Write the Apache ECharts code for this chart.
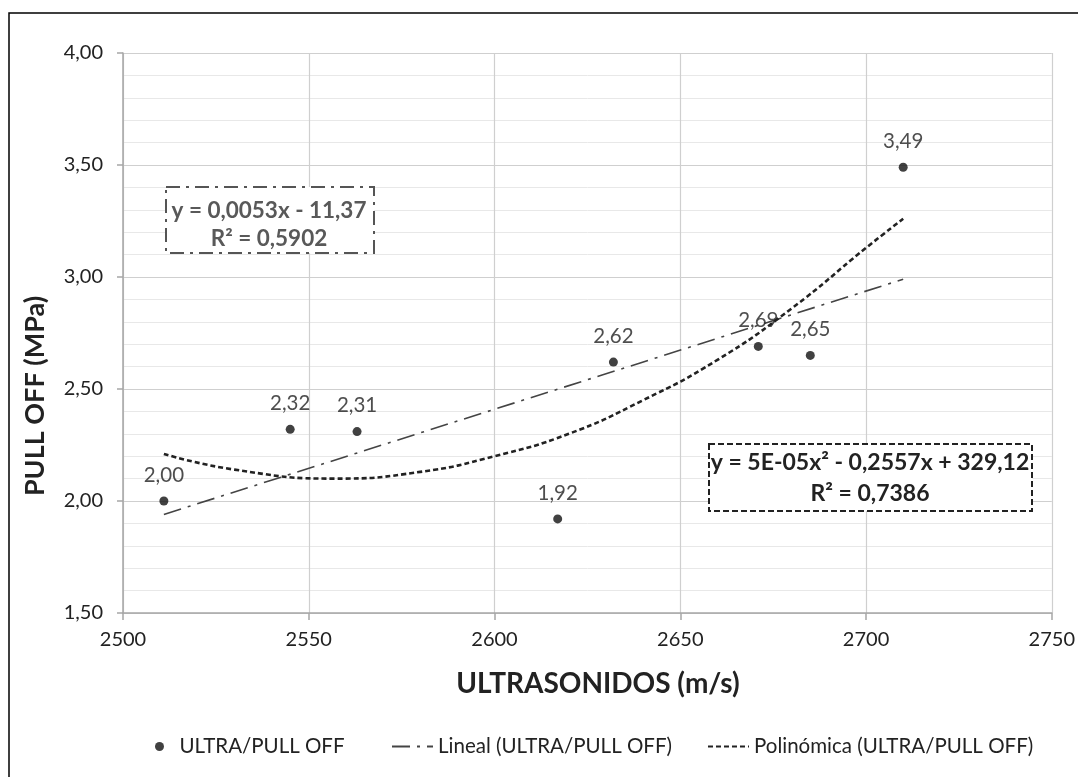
<!DOCTYPE html>
<html>
<head>
<meta charset="utf-8">
<script src="https://cdn.jsdelivr.net/npm/echarts@6/dist/echarts.min.js"></script>
<style>
  html, body { margin: 0; padding: 0; background: #fff; }
  #main { width: 1078px; height: 777px; }
</style>
</head>
<body>
<div id="main"></div>
<script>
// data
const ultraX = [2511, 2545, 2563, 2617, 2632, 2671, 2685, 2710];
const pullOff = [2.00, 2.32, 2.31, 1.92, 2.62, 2.69, 2.65, 3.49];

// linear trend line (ends as drawn)
const linealX = [2511, 2710];
const linealY = [1.94, 2.99];

// polynomial trend line
const polyX = [2511, 2530, 2557, 2580, 2600, 2620, 2640, 2660, 2680, 2700, 2710];
const polyY = [2.21, 2.14, 2.10, 2.13, 2.20, 2.30, 2.45, 2.63, 2.86, 3.13, 3.26];

const xTicks = [2500, 2550, 2600, 2650, 2700, 2750];
const yTicks = [1.5, 2.0, 2.5, 3.0, 3.5, 4.0];

const FONT = "Lato";
const legendText = { color: "#222", fontSize: 20.5, fontFamily: FONT };

let myChart = echarts.init(document.getElementById("main"));

myChart.setOption({
  animation: false,
  backgroundColor: "#fff",
  textStyle: { fontFamily: FONT },
  grid: { left: 123, right: 21, top: 53, bottom: 164 },
  xAxis: {
    type: "value",
    min: xTicks[0],
    max: xTicks[xTicks.length - 1],
    interval: 50,
    axisLine: { show: true, lineStyle: { color: "#a6a6a6", width: 1.5 } },
    axisTick: { show: true, length: 7, lineStyle: { color: "#a6a6a6", width: 1.5 } },
    axisLabel: { color: "#222", fontSize: 20, margin: 17, fontFamily: FONT, formatter: v => String(v) },
    splitLine: { show: true, lineStyle: { color: "#cfcfcf", width: 1.2 } }
  },
  yAxis: {
    type: "value",
    min: yTicks[0],
    max: yTicks[yTicks.length - 1],
    interval: 0.5,
    axisLine: { show: true, lineStyle: { color: "#a6a6a6", width: 1.5 } },
    axisTick: { show: true, length: 6, lineStyle: { color: "#a6a6a6", width: 1.5 } },
    axisLabel: {
      color: "#222", fontSize: 20, margin: 20, fontFamily: FONT,
      formatter: v => v.toFixed(2).replace(".", ",")
    },
    splitLine: { show: true, lineStyle: { color: "#cfcfcf", width: 1.2 } },
    minorTick: { show: false, splitNumber: 5 },
    minorSplitLine: { show: true, lineStyle: { color: "#e8e8e8", width: 1 } }
  },
  legend: [
    {
      top: 731,
      left: 150,
      itemWidth: 30,
      itemHeight: 9,
      textStyle: legendText,
      data: [{ name: "ULTRA/PULL OFF", icon: "circle", itemStyle: { color: "#111" } }]
    },
    {
      top: 731,
      left: 386,
      itemGap: 35,
      itemWidth: 41,
      itemHeight: 9,
      textStyle: legendText,
      data: [
        { name: "Lineal (ULTRA/PULL OFF)", itemStyle: { color: "rgba(0,0,0,0)", borderWidth: 0 } },
        { name: "Polinómica (ULTRA/PULL OFF)", itemStyle: { color: "rgba(0,0,0,0)", borderWidth: 0 } }
      ]
    }
  ],
  series: [
    {
      name: "Lineal (ULTRA/PULL OFF)",
      type: "line",
      data: linealX.map((x, i) => [x, linealY[i]]),
      showSymbol: false,
      symbol: "none",
      lineStyle: { color: "#444", width: 1.6, type: [18, 7, 3, 7] },
      itemStyle: { color: "#444" },
      z: 3
    },
    {
      name: "Polinómica (ULTRA/PULL OFF)",
      type: "line",
      data: polyX.map((x, i) => [x, polyY[i]]),
      smooth: true,
      showSymbol: false,
      symbol: "none",
      lineStyle: { color: "#222", width: 2.6, type: [5, 3] },
      itemStyle: { color: "#222" },
      z: 3
    },
    {
      name: "ULTRA/PULL OFF",
      type: "scatter",
      data: ultraX.map((x, i) => [x, pullOff[i]]),
      symbolSize: 9,
      itemStyle: { color: "#111" },
      label: {
        show: true,
        position: "top",
        distance: 11,
        color: "#222",
        fontSize: 20.5,
        fontFamily: FONT,
        formatter: p => p.value[1].toFixed(2).replace(".", ",")
      },
      z: 5
    }
  ],
  graphic: [
    {
      type: "rect",
      shape: { x: 9, y: 13, width: 1200, height: 900 },
      style: { fill: "none", stroke: "#000", lineWidth: 1.5 },
      silent: true
    },
    {
      type: "rect",
      shape: { x: 166, y: 187, width: 208, height: 66 },
      style: { fill: "#fff", stroke: "#555", lineWidth: 2, lineDash: [14, 6, 3, 6] },
      z: 10
    },
    {
      type: "text",
      x: 269, y: 211,
      style: { text: "y = 0,0053x - 11,37", fill: "#595959", font: "bold 22.5px " + FONT, align: "center", verticalAlign: "middle" },
      z: 11
    },
    {
      type: "text",
      x: 269, y: 239,
      style: { text: "R² = 0,5902", fill: "#595959", font: "bold 22.5px " + FONT, align: "center", verticalAlign: "middle" },
      z: 11
    },
    {
      type: "rect",
      shape: { x: 709, y: 444, width: 323, height: 67 },
      style: { fill: "#fff", stroke: "#222", lineWidth: 2, lineDash: [6, 3] },
      z: 10
    },
    {
      type: "text",
      x: 870, y: 463,
      style: { text: "y = 5E-05x² - 0,2557x + 329,12", fill: "#222", font: "bold 23px " + FONT, align: "center", verticalAlign: "middle" },
      z: 11
    },
    {
      type: "text",
      x: 870, y: 494,
      style: { text: "R² = 0,7386", fill: "#222", font: "bold 23px " + FONT, align: "center", verticalAlign: "middle" },
      z: 11
    },
    {
      type: "text",
      x: 598, y: 684,
      style: { text: "ULTRASONIDOS (m/s)", fill: "#222", font: "bold 28px " + FONT, align: "center", verticalAlign: "middle" }
    },
    {
      type: "text",
      x: 35, y: 396,
      rotation: Math.PI / 2,
      style: { text: "PULL OFF (MPa)", fill: "#222", font: "bold 27px " + FONT, align: "center", verticalAlign: "middle" }
    }
  ]
});
</script>
</body>
</html>
